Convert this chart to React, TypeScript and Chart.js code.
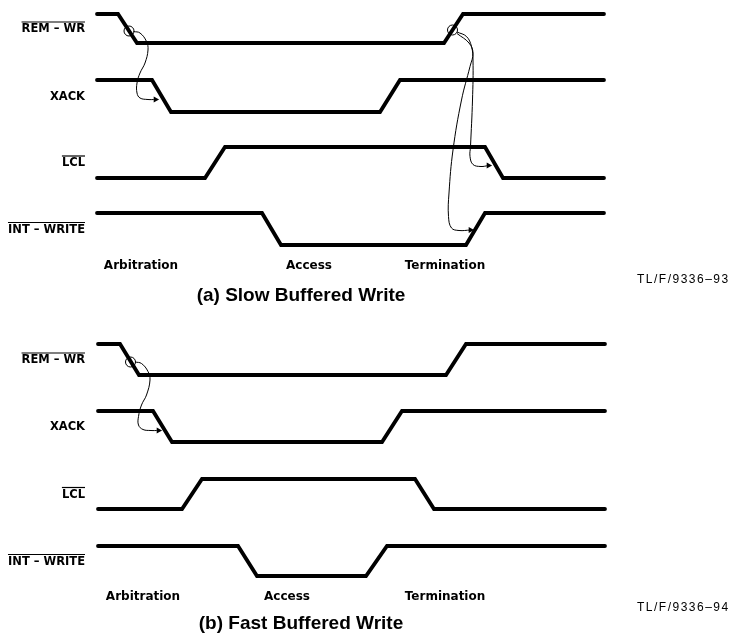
import React, { useEffect, useRef } from "react";
import { Chart, registerables } from "chart.js";

Chart.register(...registerables);

// ---------------- data ----------------
const SIGNAL_NAMES = ["REM – WR", "XACK", "LCL", "INT – WRITE"];
const SIGNAL_ACTIVE_LOW = [true, false, true, true];
const PHASE_NAMES = ["Arbitration", "Access", "Termination"];

const SLOW_TITLE = "(a) Slow Buffered Write";
const SLOW_FIGURE_ID = "TL/F/9336–93";
const FAST_TITLE = "(b) Fast Buffered Write";
const FAST_FIGURE_ID = "TL/F/9336–94";

// (a) Slow buffered write: edge times and logic levels (1 = high)
const slowRemWrTimes = [97, 118, 137, 444, 463, 604];
const slowRemWrLevels = [1, 1, 0, 0, 1, 1];
const slowXackTimes = [97, 152, 171, 380, 400, 604];
const slowXackLevels = [1, 1, 0, 0, 1, 1];
const slowLclTimes = [97, 205, 225, 485, 503, 604];
const slowLclLevels = [0, 0, 1, 1, 0, 0];
const slowIntWriteTimes = [97, 262, 281, 466, 485, 604];
const slowIntWriteLevels = [1, 1, 0, 0, 1, 1];
const slowPhaseTimes = [141, 309, 445];

// (b) Fast buffered write
const fastRemWrTimes = [98, 120, 139, 446, 466, 605];
const fastRemWrLevels = [1, 1, 0, 0, 1, 1];
const fastXackTimes = [98, 153, 172, 382, 402, 605];
const fastXackLevels = [1, 1, 0, 0, 1, 1];
const fastLclTimes = [98, 182, 202, 415, 434, 605];
const fastLclLevels = [0, 0, 1, 1, 0, 0];
const fastIntWriteTimes = [98, 238, 257, 366, 387, 605];
const fastIntWriteLevels = [1, 1, 0, 0, 1, 1];
const fastPhaseTimes = [143, 287, 445];

// causality markers (edge circles) and arrow paths
const slowCircleX = [129, 452.5];
const slowCircleY = [31, 30];
const slowArrowXackX = [133.5, 140, 146.5, 148, 145, 140, 137, 137, 140, 148, 155.5];
const slowArrowXackY = [31.5, 33, 41.5, 50, 63, 73, 83, 93, 98, 99.5, 99.5];
const slowArrowLclX = [457, 466.5, 471.5, 473, 472.5, 470.5, 470, 473, 481, 488.5];
const slowArrowLclY = [32, 36.5, 46.5, 60, 100, 146.5, 156.5, 164.5, 166.5, 165.5];
const slowArrowIntX = [457, 469, 473, 470, 461.5, 453, 449, 448.5, 451.5, 459, 470.5];
const slowArrowIntY = [33.5, 43, 53, 66.5, 100, 150, 193, 216.5, 228, 230.5, 230];

const fastCircleX = [130.5];
const fastCircleY = [362];
const fastArrowXackX = [135, 141.5, 148, 150, 146.5, 141.5, 138.5, 138.5, 143, 151, 158.5];
const fastArrowXackY = [362, 363.5, 371.5, 380, 395, 405, 416.5, 425, 429.5, 430.5, 430.5];

// ---------------- layout (vertical positions of signal rows) ----------------
const W = 730;
const H = 639;
const LABEL_RIGHT = 85;
const FIGURE_ID_LEFT = 637;
const TITLE_CENTER = 301;

const SLOW_LAYOUT = {
  high: [14, 80, 147, 213],
  low: [43, 112, 178, 245],
  phaseY: 266,
  figIdY: 280,
  titleY: 296,
};
const FAST_LAYOUT = {
  high: [344, 411, 479, 546],
  low: [375, 442, 509, 576],
  phaseY: 597,
  figIdY: 608,
  titleY: 624,
};

function signalDataset(times: number[], levels: number[], high: number, low: number) {
  return {
    data: times.map((t, i) => ({ x: t, y: levels[i] ? high : low })),
    showLine: true,
    borderColor: "#000",
    borderWidth: 3.8,
    pointRadius: 0,
    tension: 0,
    borderCapStyle: "round" as const,
    borderJoinStyle: "miter" as const,
  };
}

function arrowDataset(xs: number[], ys: number[]) {
  const n = xs.length;
  return {
    data: xs.map((x, i) => ({ x, y: ys[i] })),
    showLine: true,
    borderColor: "#000",
    borderWidth: 1,
    tension: 0.4,
    pointRadius: (c: any) => (c.dataIndex === n - 1 ? 3.6 : 0),
    pointStyle: "triangle" as const,
    rotation: 90,
    pointBackgroundColor: "#000",
    pointBorderColor: "#000",
    pointBorderWidth: 0,
  };
}

function circleDataset(xs: number[], ys: number[]) {
  return {
    data: xs.map((x, i) => ({ x, y: ys[i] })),
    showLine: false,
    pointRadius: 5,
    pointStyle: "circle" as const,
    pointBorderColor: "#000",
    pointBorderWidth: 1,
    pointBackgroundColor: "rgba(0,0,0,0)",
  };
}

const DIAGRAMS = [
  {
    layout: SLOW_LAYOUT,
    signals: [
      [slowRemWrTimes, slowRemWrLevels],
      [slowXackTimes, slowXackLevels],
      [slowLclTimes, slowLclLevels],
      [slowIntWriteTimes, slowIntWriteLevels],
    ],
    phases: slowPhaseTimes,
    title: SLOW_TITLE,
    figId: SLOW_FIGURE_ID,
  },
  {
    layout: FAST_LAYOUT,
    signals: [
      [fastRemWrTimes, fastRemWrLevels],
      [fastXackTimes, fastXackLevels],
      [fastLclTimes, fastLclLevels],
      [fastIntWriteTimes, fastIntWriteLevels],
    ],
    phases: fastPhaseTimes,
    title: FAST_TITLE,
    figId: FAST_FIGURE_ID,
  },
];

const textPlugin = {
  id: "timingText",
  beforeDraw(chart: any) {
    const ctx = chart.ctx;
    ctx.save();
    ctx.fillStyle = "#fff";
    ctx.fillRect(0, 0, chart.width, chart.height);
    ctx.restore();
  },
  afterDraw(chart: any) {
    const ctx: CanvasRenderingContext2D = chart.ctx;
    const xs = chart.scales.x;
    const ys = chart.scales.y;
    ctx.save();
    ctx.fillStyle = "#000";
    ctx.strokeStyle = "#000";
    DIAGRAMS.forEach((d) => {
      const L = d.layout;
      // signal names
      ctx.font = 'bold 11.5px "DejaVu Sans"';
      ctx.textAlign = "right";
      ctx.textBaseline = "middle";
      SIGNAL_NAMES.forEach((name, i) => {
        const yMid = ys.getPixelForValue((L.high[i] + L.low[i]) / 2) + 1;
        const xr = xs.getPixelForValue(LABEL_RIGHT);
        ctx.fillText(name, xr, yMid);
        if (SIGNAL_ACTIVE_LOW[i]) {
          const w = ctx.measureText(name).width;
          ctx.lineWidth = 1.2;
          ctx.beginPath();
          ctx.moveTo(xr - w, yMid - 7.5);
          ctx.lineTo(xr, yMid - 7.5);
          ctx.stroke();
        }
      });
      // phase names
      ctx.font = 'bold 12px "DejaVu Sans"';
      ctx.textAlign = "center";
      PHASE_NAMES.forEach((p, i) => {
        ctx.fillText(p, xs.getPixelForValue(d.phases[i]), ys.getPixelForValue(L.phaseY));
      });
      // figure id
      ctx.font = '12px "Liberation Sans"';
      ctx.textAlign = "left";
      (ctx as any).letterSpacing = "1.5px";
      ctx.fillText(d.figId, xs.getPixelForValue(FIGURE_ID_LEFT), ys.getPixelForValue(L.figIdY));
      (ctx as any).letterSpacing = "0px";
      // title
      ctx.font = 'bold 19px "Liberation Sans"';
      ctx.textAlign = "center";
      ctx.fillText(d.title, xs.getPixelForValue(TITLE_CENTER), ys.getPixelForValue(L.titleY));
    });
    ctx.restore();
  },
};

export default function App() {
  const ref = useRef<HTMLCanvasElement | null>(null);

  useEffect(() => {
    if (!ref.current) return;
    const datasets: any[] = [];
    DIAGRAMS.forEach((d) => {
      d.signals.forEach(([t, l], i) => {
        datasets.push(signalDataset(t as number[], l as number[], d.layout.high[i], d.layout.low[i]));
      });
    });
    datasets.push(arrowDataset(slowArrowXackX, slowArrowXackY));
    datasets.push(arrowDataset(slowArrowLclX, slowArrowLclY));
    datasets.push(arrowDataset(slowArrowIntX, slowArrowIntY));
    datasets.push(circleDataset(slowCircleX, slowCircleY));
    datasets.push(arrowDataset(fastArrowXackX, fastArrowXackY));
    datasets.push(circleDataset(fastCircleX, fastCircleY));

    const chart = new Chart(ref.current, {
      type: "scatter",
      data: { datasets },
      options: {
        animation: false,
        responsive: false,
        devicePixelRatio: 1,
        events: [],
        layout: { padding: 0, autoPadding: false },
        plugins: { legend: { display: false }, tooltip: { enabled: false }, title: { display: false } },
        scales: {
          x: { type: "linear", min: 0, max: W, display: false },
          y: { type: "linear", min: 0, max: H, reverse: true, display: false },
        },
      },
      plugins: [textPlugin],
    });
    return () => chart.destroy();
  }, []);

  return (
    <div style={{ position: "fixed", left: 0, top: 0, width: W, height: H, background: "#fff" }}>
      <canvas ref={ref} width={W} height={H} style={{ display: "block", width: W, height: H }} />
    </div>
  );
}
